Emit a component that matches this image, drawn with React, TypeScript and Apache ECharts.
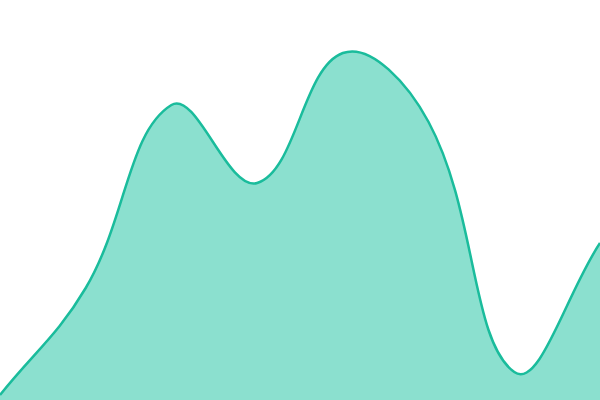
import * as echarts from "echarts"
import { useEffect, useRef } from "react"

const categories = ["1", "2", "3", "4", "5", "6", "7", "8"]
const values = [5, 112, 295, 217, 347, 278, 28, 157]

const LINE = "#1abc9c"
const FILL = "rgba(24,194,160,0.5)"
const TENSION = 0.4

// Cardinal spline through the mapped points (control points scaled by segment length).
function splinePath(pts: number[][]) {
  const cps = pts.map((p, i) => {
    const prev = pts[i - 1] ?? p
    const next = pts[i + 1] ?? p
    const d01 = Math.hypot(p[0] - prev[0], p[1] - prev[1])
    const d12 = Math.hypot(next[0] - p[0], next[1] - p[1])
    const tot = d01 + d12 || 1
    const fa = (TENSION * d01) / tot
    const fb = (TENSION * d12) / tot
    return {
      prev: [p[0] - fa * (next[0] - prev[0]), p[1] - fa * (next[1] - prev[1])],
      next: [p[0] + fb * (next[0] - prev[0]), p[1] + fb * (next[1] - prev[1])],
    }
  })
  let d = `M${pts[0][0]},${pts[0][1]}`
  for (let i = 1; i < pts.length; i++) {
    const a = cps[i - 1].next
    const b = cps[i].prev
    d += ` C${a[0]},${a[1]} ${b[0]},${b[1]} ${pts[i][0]},${pts[i][1]}`
  }
  return d
}

export default function App() {
  const ref = useRef<HTMLDivElement>(null)

  useEffect(() => {
    if (!ref.current) return
    const chart = echarts.init(ref.current, null, { renderer: "svg" })
    chart.setOption({
      animation: false,
      grid: { top: 0, right: 0, bottom: 0, left: 0 },
      xAxis: { type: "category", data: categories, boundaryGap: false, show: false },
      yAxis: { type: "value", min: 0, max: 400, show: false },
      series: [
        {
          type: "custom",
          data: values.map((v, i) => [i, v]),
          renderItem: (params: any, api: any) => {
            if (params.dataIndex !== 0) return null
            const pts = values.map((v, i) => api.coord([i, v]))
            const base = api.coord([0, 0])[1]
            const line = splinePath(pts)
            const last = pts[pts.length - 1]
            const area = `${line} L${last[0]},${base} L${pts[0][0]},${base} Z`
            return {
              type: "group",
              children: [
                { type: "path", shape: { pathData: area }, style: { fill: FILL, stroke: "none" } },
                { type: "path", shape: { pathData: line }, style: { fill: "none", stroke: LINE, lineWidth: 2.5 } },
              ],
            }
          },
        },
      ],
    })
    return () => chart.dispose()
  }, [])

  return <div ref={ref} style={{ position: "fixed", left: 0, top: 0, width: 600, height: 400 }} />
}
